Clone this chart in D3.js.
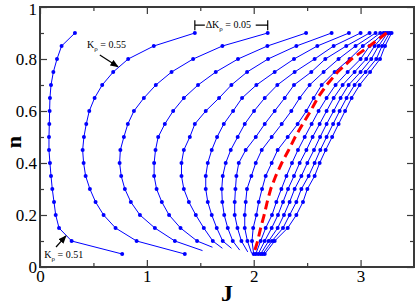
<!DOCTYPE html>
<html>
<head>
<meta charset="utf-8">
<script src="https://cdn.jsdelivr.net/npm/d3@7"></script>
<style>
body { margin: 0; background: #fff; }
text { font-family: "Liberation Serif", "Times New Roman", serif; }
</style>
</head>
<body>
<script>
// density levels, same for every curve (top to bottom)
var nLevels = [0.9, 0.85, 0.8, 0.75, 0.7, 0.65, 0.6, 0.55, 0.5, 0.45, 0.4, 0.35, 0.3, 0.25, 0.2, 0.15, 0.1, 0.05];
var kpValues = [0.51, 0.55, 0.60, 0.65, 0.70, 0.75, 0.80, 0.85, 0.90, 0.95, 1.00, 1.05, 1.10, 1.15, 1.20];

// J for each curve at nLevels
var curveJ = [
  [0.327, 0.202, 0.159, 0.125, 0.103, 0.093, 0.090, 0.087, 0.084, 0.084, 0.093, 0.103, 0.115, 0.131, 0.147, 0.178, 0.296, 0.769],
  [1.449, 1.065, 0.825, 0.685, 0.582, 0.511, 0.461, 0.433, 0.411, 0.399, 0.408, 0.427, 0.467, 0.520, 0.595, 0.707, 0.904, 1.355],
  [2.131, 1.707, 1.433, 1.231, 1.084, 0.972, 0.879, 0.822, 0.785, 0.752, 0.745, 0.760, 0.794, 0.850, 0.935, 1.075, 1.262],
  [2.490, 2.128, 1.853, 1.645, 1.479, 1.346, 1.246, 1.168, 1.106, 1.081, 1.068, 1.068, 1.091, 1.140, 1.208, 1.315, 1.470],
  [2.729, 2.399, 2.134, 1.938, 1.791, 1.676, 1.551, 1.449, 1.402, 1.346, 1.324, 1.324, 1.346, 1.393, 1.458, 1.533, 1.617],
  [2.891, 2.595, 2.377, 2.196, 2.025, 1.891, 1.807, 1.720, 1.657, 1.607, 1.570, 1.551, 1.551, 1.570, 1.607, 1.654, 1.710],
  [3.000, 2.748, 2.570, 2.383, 2.221, 2.103, 2.003, 1.916, 1.850, 1.785, 1.738, 1.710, 1.701, 1.706, 1.724, 1.757, 1.804],
  [3.084, 2.866, 2.670, 2.539, 2.377, 2.290, 2.196, 2.103, 2.019, 1.925, 1.860, 1.838, 1.829, 1.822, 1.822, 1.848, 1.885],
  [3.140, 2.953, 2.794, 2.654, 2.523, 2.430, 2.352, 2.262, 2.168, 2.075, 2.019, 1.978, 1.937, 1.925, 1.916, 1.916, 1.941],
  [3.184, 3.021, 2.897, 2.757, 2.636, 2.561, 2.493, 2.411, 2.318, 2.224, 2.168, 2.112, 2.078, 2.047, 2.025, 1.995, 1.984, 2.000],
  [3.215, 3.084, 3.000, 2.879, 2.766, 2.682, 2.607, 2.542, 2.477, 2.414, 2.358, 2.306, 2.259, 2.212, 2.171, 2.112, 2.065, 2.019],
  [3.234, 3.131, 3.053, 2.944, 2.832, 2.748, 2.682, 2.617, 2.551, 2.493, 2.430, 2.377, 2.321, 2.274, 2.227, 2.168, 2.103, 2.042],
  [3.252, 3.168, 3.100, 3.000, 2.888, 2.813, 2.748, 2.682, 2.621, 2.564, 2.502, 2.446, 2.383, 2.336, 2.283, 2.224, 2.140, 2.065],
  [3.271, 3.201, 3.147, 3.047, 2.944, 2.869, 2.804, 2.743, 2.682, 2.623, 2.570, 2.514, 2.446, 2.399, 2.336, 2.274, 2.171, 2.084],
  [3.290, 3.229, 3.182, 3.089, 2.991, 2.916, 2.855, 2.794, 2.734, 2.673, 2.617, 2.570, 2.502, 2.461, 2.399, 2.318, 2.196, 2.103]
];
// last point (no marker) of curves that stop above n = 0.05
var tailJ = [null, null, 1.521, 1.614, 1.707, 1.792, 1.869, 1.944, 1.981, null, null, null, null, null, null];
var tailN = [null, null, 0.063, 0.076, 0.072, 0.072, 0.065, 0.058, 0.052, null, null, null, null, null, null];

// red dashed boundary, at nLevels
var redJ = [3.243, 3.084, 2.916, 2.785, 2.682, 2.598, 2.533, 2.458, 2.388, 2.327, 2.262, 2.206, 2.159, 2.126, 2.098, 2.065, 2.037, 2.000];

var xMajor = [0, 1, 2, 3], xMinor = [0.5, 1.5, 2.5];
var yMajor = [0, 0.2, 0.4, 0.6, 0.8, 1], yMinor = [0.1, 0.3, 0.5, 0.7, 0.9];
var yLabels = ["0", "0.2", "0.4", "0.6", "0.8", "1"];

var W = 415, H = 305;
var margin = {left: 40, right: 1, top: 7, bottom: 38},
    width = W - margin.left - margin.right,
    height = H - margin.top - margin.bottom;

var svg = d3.select("body").append("svg")
    .attr("width", W)
    .attr("height", H);

var x = d3.scaleLinear().domain([0, 3.5]).range([margin.left, margin.left + width]);
var y = d3.scaleLinear().domain([0, 1]).range([margin.top + height, margin.top]);

var axisColor = "#3a3a3a";
var serif = "'Liberation Serif', 'Times New Roman', serif";

// ticks on all four sides, pointing in
function drawAxis(axis, tx, ty) {
  var g = svg.append("g").attr("transform", "translate(" + tx + "," + ty + ")").call(axis);
  g.attr("font-family", serif).attr("font-size", 17);
  g.select(".domain").remove();
  g.selectAll(".tick line").attr("stroke", axisColor).attr("stroke-width", 1.2);
  g.selectAll("text").attr("fill", "#000");
  return g;
}
var bottomY = y(0), topY = y(1), leftX = x(0), rightX = x(3.5);

drawAxis(d3.axisBottom(x).tickValues(xMajor).tickSize(-7).tickPadding(3).tickFormat(d3.format("d")), 0, bottomY);
drawAxis(d3.axisBottom(x).tickValues(xMinor).tickSize(-4).tickFormat(""), 0, bottomY);
drawAxis(d3.axisTop(x).tickValues(xMajor).tickSize(-7).tickFormat(""), 0, topY);
drawAxis(d3.axisTop(x).tickValues(xMinor).tickSize(-4).tickFormat(""), 0, topY);
var yAx = drawAxis(d3.axisLeft(y).tickValues(yMajor).tickSize(-7).tickPadding(3)
  .tickFormat(function(d, i) { return yLabels[i]; }), leftX, 0);
// keep the top label inside the picture
yAx.selectAll("text").filter(function(d) { return d === 1; }).attr("dy", "0.45em");
drawAxis(d3.axisLeft(y).tickValues(yMinor).tickSize(-4).tickFormat(""), leftX, 0);
drawAxis(d3.axisRight(y).tickValues(yMajor).tickSize(-7).tickFormat(""), rightX, 0);
drawAxis(d3.axisRight(y).tickValues(yMinor).tickSize(-4).tickFormat(""), rightX, 0);

svg.append("rect")
  .attr("x", leftX).attr("y", topY)
  .attr("width", rightX - leftX).attr("height", bottomY - topY)
  .attr("fill", "none").attr("stroke", axisColor).attr("stroke-width", 2);

// curves
var line = d3.line().x(function(d) { return x(d.J); }).y(function(d) { return y(d.n); });
var blue = "#0000ff";

curveJ.forEach(function(js, i) {
  var pts = js.map(function(j, k) { return {J: j, n: nLevels[k]}; });
  var path = pts.slice();
  if (tailJ[i] != null) path.push({J: tailJ[i], n: tailN[i]});
  svg.append("path")
    .attr("d", line(path))
    .attr("fill", "none")
    .attr("stroke", blue)
    .attr("stroke-width", 1);
  svg.append("g").selectAll("circle")
    .data(pts)
    .enter().append("circle")
    .attr("cx", function(d) { return x(d.J); })
    .attr("cy", function(d) { return y(d.n); })
    .attr("r", 2)
    .attr("fill", blue);
});

// red dashed line
var redPts = redJ.map(function(j, k) { return {J: j, n: nLevels[k]}; });
svg.append("path")
  .attr("d", line(redPts))
  .attr("fill", "none")
  .attr("stroke", "#ff0000")
  .attr("stroke-width", 3)
  .attr("stroke-dasharray", "9,5");

// axis titles
svg.append("text")
  .attr("x", x(1.75)).attr("y", H - 4)
  .attr("text-anchor", "middle")
  .style("font-size", "24px").style("font-weight", "bold")
  .text("J");
svg.append("text")
  .attr("transform", "translate(21," + y(0.48) + ") rotate(-90)")
  .attr("text-anchor", "middle")
  .style("font-size", "22px").style("font-weight", "bold")
  .text("n");

// arrow marker
svg.append("defs").append("marker")
  .attr("id", "arr").attr("viewBox", "0 0 10 10")
  .attr("refX", 9).attr("refY", 5)
  .attr("markerWidth", 7).attr("markerHeight", 7)
  .attr("orient", "auto")
  .append("path").attr("d", "M0,1 L10,5 L0,9 Z").attr("fill", "#000");

function kpLabel(jx, ny, val) {
  var t = svg.append("text").attr("x", x(jx)).attr("y", y(ny)).style("font-size", "10px");
  t.append("tspan").text("K");
  t.append("tspan").attr("dy", 3).style("font-size", "7px").text("\u03c1");
  t.append("tspan").attr("dy", -3).text(" = " + val);
  return t;
}
function arrow(j1, n1, j2, n2) {
  svg.append("line")
    .attr("x1", x(j1)).attr("y1", y(n1))
    .attr("x2", x(j2)).attr("y2", y(n2))
    .attr("stroke", "#000").attr("stroke-width", 1.2)
    .attr("marker-end", "url(#arr)");
}

kpLabel(0.44, 0.842, "0.55");
arrow(0.56, 0.815, 0.73, 0.770);
kpLabel(0.04, 0.033, "0.51");
arrow(0.15, 0.077, 0.243, 0.120);

// delta Kp bracket between the tops of the 0.55 and 0.60 curves
var bY = y(0.93);
var b1 = x(curveJ[1][0]), b2 = x(curveJ[2][0]);
svg.append("path")
  .attr("d", "M" + b1 + "," + (bY - 5) + "V" + (bY + 5) + "M" + b1 + "," + bY + "H" + (b1 + 10) +
             "M" + (b2 - 12) + "," + bY + "H" + b2 + "M" + b2 + "," + (bY - 5) + "V" + (bY + 5))
  .attr("stroke", "#000").attr("stroke-width", 1.2).attr("fill", "none");
var dt = svg.append("text").attr("x", x(1.55)).attr("y", bY + 3).style("font-size", "10px");
dt.append("tspan").text("\u0394K");
dt.append("tspan").attr("dy", 3).style("font-size", "7px").text("\u03c1");
dt.append("tspan").attr("dy", -3).text(" = 0.05");
</script>
</body>
</html>
